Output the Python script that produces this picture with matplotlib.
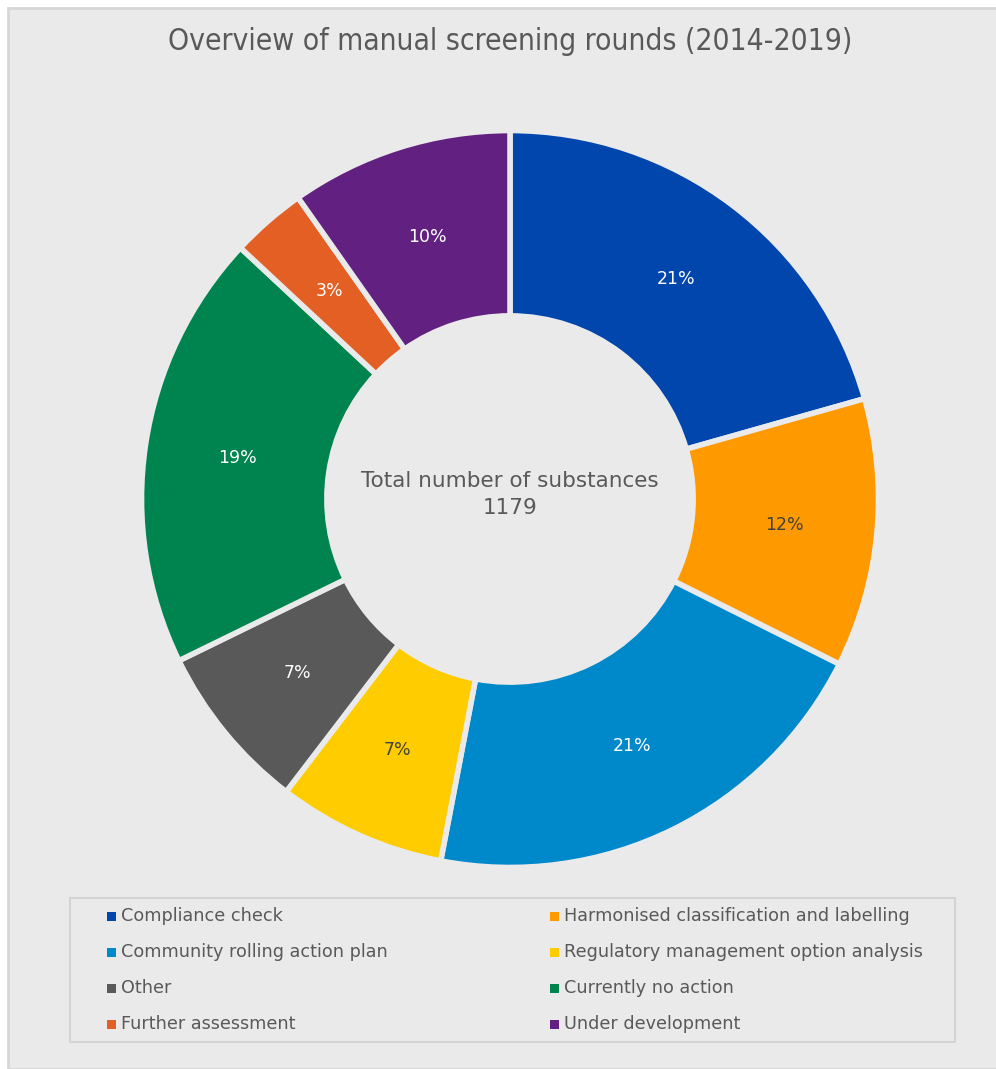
import matplotlib
matplotlib.use("Agg")
import matplotlib.pyplot as plt
import numpy as np
from matplotlib.patches import Rectangle

categories = ["Compliance check", "Harmonised classification and labelling",
              "Community rolling action plan", "Regulatory management option analysis",
              "Other", "Currently no action", "Further assessment", "Under development"]
counts = [243, 139, 243, 87, 87, 226, 39, 115]   # substances per outcome
colors = ["#0046AD", "#FF9900", "#0089CA", "#FFCC00",
          "#595959", "#00844F", "#E35F24", "#622181"]
label_colors = ["white", "#404040", "white", "#404040",
                "white", "white", "white", "white"]

total_substances = sum(counts)
BG = "#EAEAEA"
TXT = "#595959"
W, H = 996, 1069

fig = plt.figure(figsize=(W / 100, H / 100), dpi=100, facecolor="white")
# grey chart area with a thin border
fig.patches.append(Rectangle((8 / W, 0), 1, 1 - 8 / H, transform=fig.transFigure,
                             facecolor=BG, edgecolor="#D6D6D6", lw=2, zorder=-5))

R = 367  # outer radius in pixels
cx, cy = 510, 499
half = 400
ax = fig.add_axes([(cx - half) / W, (H - cy - half) / H, 2 * half / W, 2 * half / H])
ax.set_facecolor("none")

wedges, _ = ax.pie(counts, colors=colors, startangle=90, counterclock=False, radius=1.004,
                   wedgeprops=dict(width=0.505, edgecolor=BG, linewidth=4))
ax.set_xlim(-half / R, half / R)
ax.set_ylim(-half / R, half / R)
ax.axis("off")

for w, n, lc in zip(wedges, counts, label_colors):
    mid = np.deg2rad((w.theta1 + w.theta2) / 2)
    r = 0.75
    ax.text(r * np.cos(mid), r * np.sin(mid), f"{100 * n / total_substances:.0f}%",
            ha="center", va="center", color=lc, fontsize=12.5)

ax.text(0, 0.049, "Total number of substances", ha="center", va="center",
        fontsize=15.5, color=TXT)
ax.text(0, -0.025, f"{total_substances}", ha="center", va="center",
        fontsize=15.5, color=TXT)

fig.text(510 / W, 1 - 42 / H, "Overview of manual screening rounds (2014-2019)",
         ha="center", va="center", fontsize=21.5, color=TXT, fontstretch="condensed")

# legend box, filled row by row in two columns
fig.patches.append(Rectangle((70 / W, (H - 1042) / H), 885 / W, 144 / H,
                             transform=fig.transFigure, facecolor=BG,
                             edgecolor="#D3D3D3", lw=1.5, zorder=1))
col_x = [107, 550]
row_y = [916, 952, 988, 1024]
for i, (name, c) in enumerate(zip(categories, colors)):
    x = col_x[i % 2]
    y = row_y[i // 2]
    fig.patches.append(Rectangle((x / W, (H - y - 4.5) / H), 9 / W, 9 / H,
                                 transform=fig.transFigure, facecolor=c,
                                 edgecolor="none", zorder=2))
    fig.text((x + 14) / W, (H - y) / H, name, ha="left", va="center",
             fontsize=12.7, color=TXT, zorder=3)

fig.savefig("out.png", dpi=100, facecolor="white")
